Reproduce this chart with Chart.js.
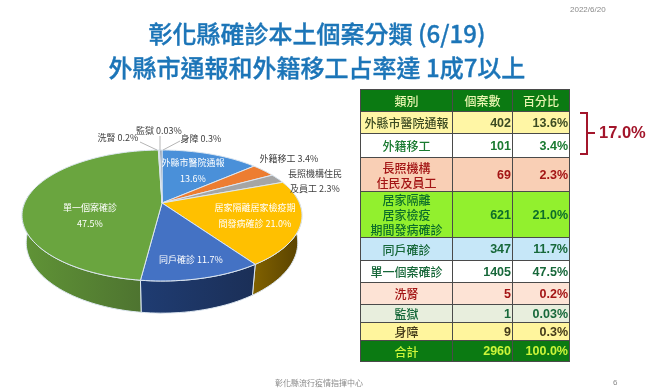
<!DOCTYPE html>
<html lang="zh-Hant">
<head>
<meta charset="utf-8">
<title>彰化縣確診本土個案分類</title>
<script src="https://cdn.jsdelivr.net/npm/chart.js@4"></script>
<style>
    html, body { margin: 0; padding: 0; background: #fff; }
    body { width: 656px; height: 391px; position: relative; overflow: hidden; font-family: "Noto Sans CJK TC", "Liberation Sans", sans-serif; }
    #pie { position: absolute; left: 0; top: 0; }
    .txt { position: absolute; white-space: nowrap; }
    #title { left: 0; width: 634px; top: 16px; text-align: center; color: #1c75b8; font-size: 24px; line-height: 34px; font-weight: 500; -webkit-text-stroke: 0.35px #1c75b8; }
    #date { left: 570px; top: 5px; font-size: 8px; line-height: 10px; color: #8a8a8a; font-family: "Liberation Sans", sans-serif; }
    #foot { left: 275px; top: 378px; font-size: 8px; line-height: 10px; color: #8a8a8a; }
    #page { left: 613px; top: 378px; font-size: 8px; line-height: 10px; color: #8a8a8a; font-family: "Liberation Sans", sans-serif; }
    #sum { left: 599px; top: 121px; font: bold 16.5px/22px "Liberation Sans", sans-serif; color: #a3162b; }
    #brace { position: absolute; left: 580px; top: 112px; width: 8px; height: 43px; box-sizing: border-box; border: 2px solid #a3162b; border-left: 0; }
    #stub { position: absolute; left: 588px; top: 132px; width: 7px; height: 2px; background: #a3162b; }
    table { position: absolute; left: 360px; top: 89px; width: 209px; height: 272px; border-collapse: collapse; table-layout: fixed; font-size: 12px; line-height: 15px; }
    td, th { border: 1px solid #4a4a4a; padding: 0 1px; white-space: pre-line; text-align: center; font-weight: 500; }
    td.n { text-align: right; font: bold 12.5px "Liberation Sans", sans-serif; }
    th { background: #0b7a12; color: #e9f5b0; font-size: 12px; }
</style>
</head>
<body>
<canvas id="pie" width="656" height="391"></canvas>
<div class="txt" id="title">彰化縣確診本土個案分類 (6/19)<br>外縣市通報和外籍移工占率達 1成7以上</div>
<div class="txt" id="date">2022/6/20</div>
<div class="txt" id="foot">彰化縣流行疫情指揮中心</div>
<div class="txt" id="page">6</div>
<table id="tbl"></table>
<div id="brace"></div><div id="stub"></div>
<div class="txt" id="sum">17.0%</div>
<script>
const categories = ['外縣市醫院通報', '外籍移工', '長照機構\n住民及員工', '居家隔離\n居家檢疫\n期間發病確診', '同戶確診', '單一個案確診', '洗腎', '監獄', '身障'];
const caseCounts = [402, 101, 69, 621, 347, 1405, 5, 1, 9];
const percents = ['13.6%', '3.4%', '2.3%', '21.0%', '11.7%', '47.5%', '0.2%', '0.03%', '0.3%'];
const tableHead = ['類別', '個案數', '百分比'];
const totalRow = ['合計', '2960', '100.0%'];

const sliceColors = ['#4a90d9', '#ed7d31', '#a5a5a5', '#ffc000', '#4472c4', '#6aa53f', '#9e9e9e', '#636363', '#7f8fa8'];
const rimColors = [['#2c5a88', '#2c5a88'], ['#8a4a1c', '#8a4a1c'], ['#666', '#666'], ['#7f6000', '#5e4600'], ['#1f3c72', '#1b2f57'], ['#5f9236', '#4e7430'], ['#666', '#666'], ['#444', '#444'], ['#555', '#555']];
const rowStyles = [['#fff6a5', '#3c4a22'], ['#ffffff', '#1a7a30'], ['#f9cfb5', '#a31515'], ['#92f02e', '#0d6e2a'], ['#c6e7f8', '#17683a'], ['#ffffff', '#17683a'], ['#fde3d5', '#a31515'], ['#e8eedd', '#17683a'], ['#fff59d', '#443a1a']];
const rowHeights = [22, 22, 24, 34, 46, 23, 22, 22, 18, 18, 21];

// 圓餅上的文字 [內容, x, y, 顏色]
const pieLabels = [
    ['外縣市醫院通報', 193, 163, '#fff'], ['13.6%', 193, 179, '#fff'],
    ['外籍移工 3.4%', 289, 159, '#404040'],
    ['長照機構住民', 315, 174, '#404040'], ['及員工 2.3%', 315, 189, '#404040'],
    ['居家隔離居家檢疫期', 255, 208, '#fff'], ['間發病確診 21.0%', 255, 224, '#fff'],
    ['同戶確診 11.7%', 191, 260, '#fff'],
    ['單一個案確診', 90, 208, '#fff'], ['47.5%', 90, 224, '#fff'],
    ['洗腎 0.2%', 118, 138, '#404040'], ['監獄 0.03%', 159, 131, '#404040'], ['身障 0.3%', 201, 139, '#404040']
];
const leaders = [[140, 142, 157, 150], [160, 136, 160, 150], [180, 141, 163, 150]];

// 透視圓餅的幾何
const cx = 162, cy = 203, rx = 137.4, ry = 63.1, persp = 0.191, depth = 26, shrink = 0.03;
function project(a, drop) {
    const w = 1 / (1 - persp * Math.sin(a));
    return [cx + rx * Math.cos(a) * w * (1 - shrink * drop), cy + ry * Math.sin(a) * w + drop * depth * w];
}
function edge(ctx, from, to, drop) {
    const steps = Math.max(2, Math.ceil(Math.abs(to - from) / 0.03));
    for (let i = 0; i <= steps; i++) {
        const p = project(from + (to - from) * i / steps, drop);
        ctx.lineTo(p[0], p[1]);
    }
}

// 把 Chart.js 算好的角度畫成透視的扇形
Chart.ArcElement.prototype.draw = function (ctx) {
    ctx.save();
    ctx.beginPath();
    ctx.moveTo(cx, cy);
    edge(ctx, this.startAngle, this.endAngle, 0);
    ctx.closePath();
    ctx.fillStyle = this.options.backgroundColor;
    ctx.fill();
    ctx.lineWidth = 1;
    ctx.lineJoin = 'round';
    ctx.strokeStyle = this.options.borderColor;
    ctx.stroke();
    ctx.restore();
};

const rimPlugin = {
    id: 'rim',
    beforeDatasetsDraw(chart) {
        const ctx = chart.ctx;
        chart.getDatasetMeta(0).data.forEach((arc, i) => {
            const from = Math.max(arc.startAngle, -0.15), to = Math.min(arc.endAngle, Math.PI + 0.15);
            if (to <= from) return;
            const g = ctx.createLinearGradient(project(to, 0)[0], 0, project(from, 0)[0], 0);
            g.addColorStop(0, rimColors[i][0]);
            g.addColorStop(1, rimColors[i][1]);
            ctx.beginPath();
            edge(ctx, from, to, 0);
            edge(ctx, to, from, 1);
            ctx.closePath();
            ctx.fillStyle = g;
            ctx.fill();
            ctx.strokeStyle = '#dce6f0';
            ctx.lineWidth = 1;
            ctx.stroke();
        });
    },
    afterDatasetsDraw(chart) {
        const ctx = chart.ctx;
        ctx.save();
        ctx.strokeStyle = '#b5b5b5';
        ctx.lineWidth = 1;
        leaders.forEach(l => {
            ctx.beginPath();
            ctx.moveTo(l[0], l[1]);
            ctx.lineTo(l[2], l[3]);
            ctx.stroke();
        });
        ctx.font = '9px "Noto Sans CJK TC", sans-serif';
        ctx.textAlign = 'center';
        ctx.textBaseline = 'middle';
        pieLabels.forEach(l => {
            ctx.fillStyle = l[3];
            ctx.fillText(l[0], l[1], l[2]);
        });
        ctx.restore();
    }
};

new Chart(document.getElementById('pie').getContext('2d'), {
    type: 'pie',
    data: {
        labels: categories,
        datasets: [{
            data: caseCounts,
            backgroundColor: sliceColors,
            borderColor: '#dce6f0',
            borderWidth: 1
        }]
    },
    options: {
        responsive: false,
        animation: false,
        plugins: { legend: { display: false }, tooltip: { enabled: false } }
    },
    plugins: [rimPlugin]
});

// 右邊的表格
const tbl = document.getElementById('tbl');
function addRow(cells, bg, fg, h, head) {
    const tr = tbl.insertRow();
    tr.style.height = h + 'px';
    cells.forEach((c, i) => {
        const td = document.createElement(head ? 'th' : 'td');
        td.textContent = c;
        if (!head) {
            td.style.background = bg;
            td.style.color = fg;
            if (i > 0) td.className = 'n';
        }
        tr.appendChild(td);
    });
}
const colgroup = document.createElement('colgroup');
[92, 60, 57].forEach(w => {
    const col = document.createElement('col');
    col.style.width = w + 'px';
    colgroup.appendChild(col);
});
tbl.appendChild(colgroup);
addRow(tableHead, '', '', rowHeights[0], true);
categories.forEach((c, i) => addRow([c, caseCounts[i], percents[i]], rowStyles[i][0], rowStyles[i][1], rowHeights[i + 1]));
addRow(totalRow, '#0b7a12', '#ccf53a', rowHeights[10]);
</script>
</body>
</html>
